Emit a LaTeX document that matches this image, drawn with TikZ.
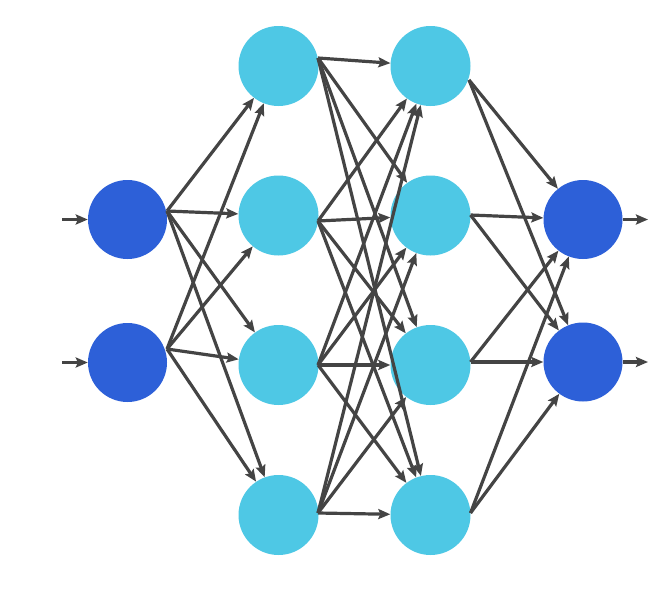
\documentclass[tikz,border=0pt]{standalone}
\usetikzlibrary{arrows.meta}
\definecolor{dblue}{RGB}{45,96,216}
\definecolor{lblue}{RGB}{78,200,229}
\definecolor{edgegray}{RGB}{68,68,68}
\begin{document}
\begin{tikzpicture}[x=1pt,y=-1pt,
  neuronin/.style={circle,fill=dblue,minimum size=79pt,inner sep=0pt},
  neuronhid/.style={circle,fill=lblue,minimum size=80pt,inner sep=0pt},
  conn/.style={draw=edgegray,line width=3.2pt,-{Stealth[length=12pt,width=10pt,inset=2pt]}}]
\useasboundingbox (0,0) rectangle (668,597);
\fill[white] (0,0) rectangle (668,597);
% input layer
\node[neuronin] (i1) at (127.5,219.5) {};
\node[neuronin] (i2) at (127.5,362.5) {};
% hidden layer 1
\node[neuronhid] (a1) at (278.5,66) {};
\node[neuronhid] (a2) at (278.5,215.5) {};
\node[neuronhid] (a3) at (278.5,365) {};
\node[neuronhid] (a4) at (278.5,515) {};
% hidden layer 2
\node[neuronhid] (b1) at (430.5,66) {};
\node[neuronhid] (b2) at (430.5,215.5) {};
\node[neuronhid] (b3) at (430.5,365) {};
\node[neuronhid] (b4) at (430.5,515) {};
% output layer
\node[neuronin] (o1) at (583,219.5) {};
\node[neuronin] (o2) at (583,362) {};
% connector start points on the right of each source node
\coordinate (si1) at (167,211);
\coordinate (si2) at (167,349);
\coordinate (sa1) at (318,58);
\coordinate (sa2) at (318,221);
\coordinate (sa3) at (318,365);
\coordinate (sa4) at (318,513);
\coordinate (sb1) at (469,80);
\coordinate (sb2) at (470.5,215);
\coordinate (sb3) at (470.5,362);
\coordinate (sb4) at (470.5,513);
% free ends
\coordinate (in1) at (62,219.5);
\coordinate (in2) at (62,362.5);
\coordinate (out1) at (648,219.5);
\coordinate (out2) at (648,362);
\draw[conn] (in1) -- (i1);
\draw[conn] (in2) -- (i2);
\draw[conn] (o1) -- (out1);
\draw[conn] (o2) -- (out2);
\foreach \s in {i1,i2}{\foreach \t in {a1,a2,a3,a4}{\draw[conn] (s\s) -- (\t);}}
\foreach \s in {a1,a2,a3,a4}{\foreach \t in {b1,b2,b3,b4}{\draw[conn] (s\s) -- (\t);}}
\foreach \s in {b1,b2,b3,b4}{\foreach \t in {o1,o2}{\draw[conn] (s\s) -- (\t);}}
\end{tikzpicture}
\end{document}
